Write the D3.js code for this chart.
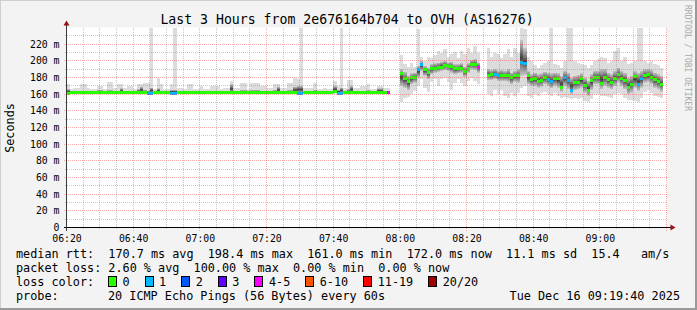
<!DOCTYPE html>
<html>
<head>
<meta charset="utf-8">
<script src="https://cdn.jsdelivr.net/npm/d3@7"></script>
<style>
  body { margin: 0; background: #f3f3f3; }
  svg text { font-family: "DejaVu Sans Mono", monospace; }
</style>
</head>
<body>
<svg id="chart" width="697" height="310"></svg>
<script>
// one slot per minute, starting 06:20
const graphStart = new Date(2025, 11, 16, 6, 20, 0)
const graphEnd = new Date(2025, 11, 16, 9, 20, 0)

const median = [
  161, 161.5, 162, 162, 162, 162, 162, 162, 162, 162,
  162, 162, 162, 162, 162, 162, 162, 162, 162, 162,
  162, 162, 162, 162, 161, 161, 162, 162, 162, 162,
  162, 161, 161, 162, 162, 162, 162, 162, 162, 162,
  162, 162, 162, 162, 162, 162, 162, 162, 162, 162,
  162, 162, 162, 162, 162, 162, 162, 162, 162, 162,
  162, 162, 162, 162, 162, 162, 162, 162, 162, 161,
  161, 162, 162, 162, 162, 162, 162, 162, 162, 162,
  163.5, 161, 161, 162, 162, 162, 162, 162, 162, 162,
  162, 162, 162, 162, 162, 162, 162, null, null, null,
  184.7, 178.7, 174.7, 180, 180, 189.5, 196.2, 189.5, 186, 191.4,
  191.4, 192.6, 192.6, 194.6, 193.8, 193.8, 190.6, 191.4, 191.4, 186.7,
  191.4, 196, 196, 191.9, null, null, 183, 183.9, 184, 182.7,
  182.7, 182.7, 182.7, 180, 181.9, 181.9, 198.4, 197, 182, 178,
  178.7, 175.5, 176.3, 179.8, 177.5, 175, 178.7, 178.7, 168.4, 180,
  175.9, 164.8, 173.5, 173.5, 178.7, 171, 164, 175.9, 180, 180,
  172.3, 180.6, 177.5, 173.5, 178.7, 183.9, 178.7, 175.9, 168, 171.6,
  180.7, 172, 178.7, 182.5, 183.9, 180.3, 177.5, 175.5, 172
]

// lost pings out of 20 per slot
const loss = [
  0, 0, 0, 0, 0, 0, 0, 0, 0, 0,
  0, 0, 0, 0, 0, 0, 0, 0, 0, 0,
  0, 0, 0, 0, 1, 1, 0, 0, 0, 0,
  0, 1, 1, 0, 0, 0, 0, 0, 0, 0,
  0, 0, 0, 0, 0, 0, 0, 0, 0, 0,
  0, 0, 0, 0, 0, 0, 0, 0, 0, 0,
  0, 0, 0, 0, 0, 0, 0, 0, 0, 1,
  1, 0, 0, 0, 0, 0, 0, 0, 0, 0,
  0, 1, 1, 0, 0, 0, 0, 0, 0, 0,
  0, 0, 0, 0, 0, 0, 4, 20, 20, 20,
  0, 0, 0, 0, 0, 1, 1, 0, 0, 0,
  0, 0, 0, 0, 0, 0, 0, 0, 0, 0,
  0, 0, 0, 4, 20, 20, 0, 0, 1, 1,
  0, 0, 0, 0, 0, 0, 1, 1, 0, 0,
  0, 0, 0, 0, 1, 1, 0, 0, 0, 1,
  1, 1, 0, 0, 0, 0, 0, 0, 0, 0,
  0, 0, 0, 0, 0, 0, 0, 0, 0, 0,
  0, 1, 1, 0, 0, 0, 0, 0, 0
]

// smoke: lowest ping, inner band low, inner band high, highest ping (ms)
const smokeLo = [
  160, 160, 160, 160, 160, 160, 160, 160, 160, 160,
  160, 160, 160, 160, 160, 160, 160, 160, 160, 160,
  160, 160, 160, 160, 160, 160, 160, 160, 160, 160,
  160, 160, 160, 160, 160, 160, 160, 160, 160, 160,
  160, 160, 160, 160, 160, 160, 160, 160, 160, 160,
  160, 160, 160, 160, 160, 160, 160, 160, 160, 160,
  160, 160, 160, 160, 160, 160, 160, 160, 160, 160,
  160, 160, 160, 160, 160, 160, 160, 160, 160, 160,
  160, 160, 160, 160, 160, 160, 160, 160, 160, 160,
  160, 160, 160, 160, 160, 160, 160, null, null, null,
  151, 155, 157, 160, 164, 170, 178, 168, 163, 175,
  178, 170, 178, 180, 175, 165, 173, 178, 173, 170,
  176, 180, 176, 172, null, null, 160, 158, 165, 160,
  165, 158, 155, 162, 158, 162, 168, 170, 158, 155,
  160, 158, 162, 163, 160, 158, 161, 158, 155, 157,
  156, 154, 155, 154, 156, 152, 151, 154, 160, 160,
  158, 158, 157, 156, 160, 162, 160, 156, 153, 153,
  152, 151, 156, 163, 165, 162, 158, 157, 155
]
const smokeQ1 = [
  161, 161, 161, 161, 161, 161, 161, 161, 161, 161,
  161, 161, 161, 161, 161, 161, 161, 161, 161, 161,
  161, 161, 161, 161, 161, 161, 161, 161, 161, 161,
  161, 161, 161, 161, 161, 161, 161, 161, 161, 161,
  161, 161, 161, 161, 161, 161, 161, 161, 161, 161,
  161, 161, 161, 161, 161, 161, 161, 161, 161, 161,
  161, 161, 161, 161, 161, 161, 161, 161, 161, 161,
  161, 161, 161, 161, 161, 161, 161, 161, 161, 161,
  161, 161, 161, 161, 161, 161, 161, 161, 161, 161,
  161, 161, 161, 161, 161, 161, 161, null, null, null,
  170, 168, 165, 172, 174, 180, 188, 182, 178, 184,
  186, 187, 188, 189, 188, 186, 184, 185, 186, 181,
  186, 190, 189, 186, null, null, 177, 177, 178, 176,
  176, 176, 175, 172, 175, 174, 182, 183, 172, 170,
  170, 168, 169, 172, 170, 167, 170, 168, 163, 170,
  166, 160, 165, 166, 168, 162, 158, 165, 172, 172,
  166, 170, 168, 166, 170, 174, 170, 166, 160, 162,
  168, 164, 168, 174, 175, 172, 168, 166, 163
]
const smokeQ3 = [
  166, 163, 163, 163, 164, 164, 163, 163, 163, 165,
  165, 163, 165, 165, 163, 164, 167, 163, 164, 164,
  163, 166, 169, 165, 164, 168, 163, 167, 164, 163,
  163, 165, 165, 163, 163, 163, 164, 164, 163, 163,
  164, 163, 163, 164, 164, 164, 163, 163, 163, 172,
  163, 163, 165, 165, 163, 165, 165, 165, 164, 164,
  163, 163, 165, 169, 163, 163, 165, 165, 169, 170,
  170, 163, 163, 163, 165, 163, 163, 163, 163, 163,
  170, 165, 168, 163, 166, 170, 163, 163, 164, 164,
  165, 163, 163, 167, 167, 163, 163, null, null, null,
  190, 187, 182, 185, 186, 194, 200, 194, 192, 196,
  197, 198, 199, 200, 198, 199, 196, 196, 197, 193,
  197, 201, 202, 198, null, null, 190, 189, 190, 188,
  189, 188, 190, 186, 188, 190, 225, 215, 188, 184,
  186, 184, 185, 187, 186, 185, 186, 185, 182, 188,
  186, 180, 182, 183, 185, 180, 176, 184, 188, 188,
  190, 190, 186, 184, 188, 192, 188, 186, 180, 182,
  188, 186, 188, 190, 190, 189, 186, 184, 182
]
const smokeHi = [
  172, 166, 168, 168, 172, 172, 168, 166, 166, 170,
  170, 166, 175, 175, 168, 172, 172, 167, 170, 170,
  166, 172, 172, 173, 173, 240, 166, 180, 172, 166,
  166, 172, 240, 168, 168, 166, 172, 172, 166, 166,
  170, 166, 166, 170, 170, 170, 166, 167, 167, 176,
  168, 168, 173, 173, 166, 173, 173, 173, 170, 170,
  167, 167, 172, 172, 168, 168, 173, 173, 180, 178,
  240, 168, 168, 168, 173, 166, 166, 168, 166, 166,
  176, 170, 240, 168, 177, 177, 168, 168, 170, 170,
  172, 166, 166, 170, 170, 167, 167, null, null, null,
  207, 196, 193, 198, 193, 238, 205, 200, 205, 204,
  207, 212, 210, 214, 205, 208, 211, 204, 212, 208,
  215, 210, 218, 210, null, null, 215, 205, 210, 208,
  203, 208, 214, 205, 215, 210, 240, 238, 205, 200,
  195, 192, 195, 197, 200, 240, 196, 195, 192, 200,
  240, 240, 200, 198, 196, 195, 192, 195, 200, 202,
  205, 204, 198, 200, 212, 216, 200, 205, 196, 198,
  200, 240, 240, 200, 198, 200, 196, 195, 192
]

const lossLabels = ["0", "1", "2", "3", "4-5", "6-10", "11-19", "20/20"]
const lossColors = ["#26ff00", "#00b8ff", "#0059ff", "#5e00ff", "#ff00ff", "#ff5500", "#ff0000", "#a10000"]
const yTicks = [0, 20, 40, 60, 80, 100, 120, 140, 160, 180, 200, 220]

const legendRtt = "median rtt:  170.7 ms avg  198.4 ms max  161.0 ms min  172.0 ms now  11.1 ms sd  15.4   am/s"
const legendLoss = "packet loss: 2.60 % avg  100.00 % max  0.00 % min  0.00 % now"
const probeText = "20 ICMP Echo Pings (56 Bytes) every 60s"
const stampText = "Tue Dec 16 09:19:40 2025"
const titleText = "Last 3 Hours from 2e676164b704 to OVH (AS16276)"

const W = 697, H = 310
const plot = { left: 66.5, right: 666.5, top: 27.5, bottom: 227.5 }

const svg = d3.select("#chart")

const x = d3.scaleTime().domain([graphStart, graphEnd]).range([plot.left, plot.right])
const y = d3.scaleLinear().domain([0, 240]).range([plot.bottom, plot.top])
const lossColor = d3.scaleThreshold().domain([1, 2, 3, 4, 6, 11, 20]).range(lossColors)
const slotTime = i => d3.timeMinute.offset(graphStart, i)
// keep runs of spaces in the legend lines
const keepSpaces = s => s.replace(/ /g, "\u00a0")

// canvas + frame
svg.append("rect").attr("width", W).attr("height", H).attr("fill", "#f3f3f3")
svg.append("path").attr("d", `M0,${H} V0 H${W}`).attr("fill", "none")
  .attr("stroke", "#cfcfcf").attr("stroke-width", 2)
svg.append("path").attr("d", `M0,${H - 1} H${W - 1} V0`).attr("fill", "none")
  .attr("stroke", "#9a9a9a").attr("stroke-width", 2)

svg.append("rect")
  .attr("x", plot.left).attr("y", plot.top)
  .attr("width", plot.right - plot.left).attr("height", plot.bottom - plot.top)
  .attr("fill", "#fff")

const defs = svg.append("defs")
const grad = defs.append("linearGradient").attr("id", "smoke-core")
  .attr("x1", 0).attr("y1", 0).attr("x2", 0).attr("y2", 1)
grad.append("stop").attr("offset", "0%").attr("stop-color", "#c4c4c4")
grad.append("stop").attr("offset", "25%").attr("stop-color", "#8c8c8c")
grad.append("stop").attr("offset", "50%").attr("stop-color", "#404040")
grad.append("stop").attr("offset", "75%").attr("stop-color", "#8c8c8c")
grad.append("stop").attr("offset", "100%").attr("stop-color", "#c4c4c4")

const slots = d3.range(median.length).filter(i => smokeHi[i] != null)
const slotX = i => x(slotTime(i))
const slotW = i => x(slotTime(i + 1)) - x(slotTime(i))

const graph = svg.append("g").attr("shape-rendering", "crispEdges")

graph.selectAll("rect.smoke-outer")
  .data(slots)
  .join("rect")
    .attr("class", "smoke-outer")
    .attr("x", slotX)
    .attr("width", slotW)
    .attr("y", i => y(smokeHi[i]))
    .attr("height", i => y(smokeLo[i]) - y(smokeHi[i]))
    .attr("fill", "#dcdcdc")

graph.selectAll("rect.smoke-core")
  .data(slots)
  .join("rect")
    .attr("class", "smoke-core")
    .attr("x", slotX)
    .attr("width", slotW)
    .attr("y", i => y(smokeQ3[i]))
    .attr("height", i => y(smokeQ1[i]) - y(smokeQ3[i]))
    .attr("fill", "url(#smoke-core)")

graph.selectAll("rect.median")
  .data(d3.range(median.length).filter(i => median[i] != null))
  .join("rect")
    .attr("class", "median")
    .attr("x", slotX)
    .attr("width", slotW)
    .attr("y", i => y(median[i]) - 1.5)
    .attr("height", 3)
    .attr("fill", i => lossColor(loss[i]))

// grid on top of the graph, like rrdtool
const grid = svg.append("g").attr("shape-rendering", "crispEdges").attr("fill", "none")
const minorTimes = x.ticks(d3.timeMinute.every(5)).filter(t => t.getMinutes() % 20 !== 0)
const majorTimes = x.ticks(d3.timeMinute.every(20))
const minorVals = d3.range(10, 240, 20)
const minorStroke = "rgba(120,120,120,0.4)"
const majorStroke = "rgba(255,0,0,0.32)"

grid.selectAll("line.vminor").data(minorTimes).join("line")
  .attr("x1", d => x(d)).attr("x2", d => x(d))
  .attr("y1", plot.top).attr("y2", plot.bottom + 2)
  .attr("stroke", minorStroke).attr("stroke-dasharray", "1,1")
grid.selectAll("line.hminor").data(minorVals).join("line")
  .attr("y1", d => y(d)).attr("y2", d => y(d))
  .attr("x1", plot.left - 2).attr("x2", plot.right)
  .attr("stroke", minorStroke).attr("stroke-dasharray", "1,1")
grid.selectAll("line.vmajor").data(majorTimes).join("line")
  .attr("x1", d => x(d)).attr("x2", d => x(d))
  .attr("y1", plot.top).attr("y2", plot.bottom + 3)
  .attr("stroke", majorStroke).attr("stroke-dasharray", "1,1")
grid.selectAll("line.hmajor").data(yTicks.slice(1)).join("line")
  .attr("y1", d => y(d)).attr("y2", d => y(d))
  .attr("x1", plot.left - 3).attr("x2", plot.right)
  .attr("stroke", majorStroke).attr("stroke-dasharray", "1,1")

// axes
const axes = svg.append("g").attr("shape-rendering", "crispEdges")
axes.append("line")
  .attr("x1", plot.left - 3).attr("x2", plot.right + 5)
  .attr("y1", plot.bottom).attr("y2", plot.bottom)
  .attr("stroke", "#000")
axes.append("line")
  .attr("x1", plot.left).attr("x2", plot.left)
  .attr("y1", plot.bottom + 3).attr("y2", plot.top - 3)
  .attr("stroke", "#3a3a3a")
svg.append("path")
  .attr("d", `M${plot.left - 3},${plot.top - 2} L${plot.left},${plot.top - 7} L${plot.left + 3},${plot.top - 2} Z`)
  .attr("fill", "#9a1010")
svg.append("path")
  .attr("d", `M${plot.right + 4},${plot.bottom - 3} L${plot.right + 9},${plot.bottom} L${plot.right + 4},${plot.bottom + 3} Z`)
  .attr("fill", "#9a1010")

// tick labels through d3 axes, with the domain/ticks hidden
const xAxis = d3.axisBottom(x)
  .tickValues(x.ticks(d3.timeMinute.every(20)).filter(t => t < d3.timeMinute.offset(graphEnd, -10)))
  .tickFormat(d3.timeFormat("%H:%M"))
  .tickSize(0).tickPadding(8)
const gx = svg.append("g").attr("transform", `translate(0,${plot.bottom})`).call(xAxis)
const yAxis = d3.axisLeft(y)
  .tickValues(yTicks)
  .tickFormat(d => d === 0 ? "0" : `${d} m`)
  .tickSize(0).tickPadding(7)
const gy = svg.append("g").attr("transform", `translate(${plot.left},0)`).call(yAxis)
for (const g of [gx, gy]) {
  g.select(".domain").remove()
  g.selectAll("text").attr("font-family", "DejaVu Sans Mono").attr("font-size", 9.8).attr("fill", "#000")
}

// title and side labels
svg.append("text")
  .attr("x", 347).attr("y", 23.5)
  .attr("text-anchor", "middle")
  .attr("font-size", 13.2)
  .text(titleText)

svg.append("text")
  .attr("transform", "translate(14,128) rotate(-90)")
  .attr("text-anchor", "middle")
  .attr("font-size", 11.8)
  .text("Seconds")

svg.append("text")
  .attr("transform", "translate(684.5,5) rotate(90)")
  .attr("font-size", 8)
  .attr("fill", "#a8a8a8")
  .text("RRDTOOL / TOBI OETIKER")

// legend
const legend = svg.append("g").attr("font-size", 11.8).attr("fill", "#000")
legend.append("text").attr("x", 16).attr("y", 258).text(keepSpaces(legendRtt))
legend.append("text").attr("x", 16).attr("y", 272).text(keepSpaces(legendLoss))
legend.append("text").attr("x", 16).attr("y", 286).text(keepSpaces("loss color:"))
legend.append("text").attr("x", 16).attr("y", 300).text("probe:")
legend.append("text").attr("x", 108).attr("y", 300).text(keepSpaces(probeText))
legend.append("text").attr("x", 680).attr("y", 300).attr("text-anchor", "end").text(keepSpaces(stampText))

let lx = 108
lossLabels.forEach((label, k) => {
  legend.append("rect")
    .attr("x", lx + 0.5).attr("y", 276.5)
    .attr("width", 8).attr("height", 10)
    .attr("fill", lossColors[k]).attr("stroke", "#000")
    .attr("shape-rendering", "crispEdges")
  const t = legend.append("text").attr("x", lx + 14.5).attr("y", 286).text(label)
  lx = lx + 14.5 + t.node().getComputedTextLength() + 15
})
</script>
</body>
</html>
